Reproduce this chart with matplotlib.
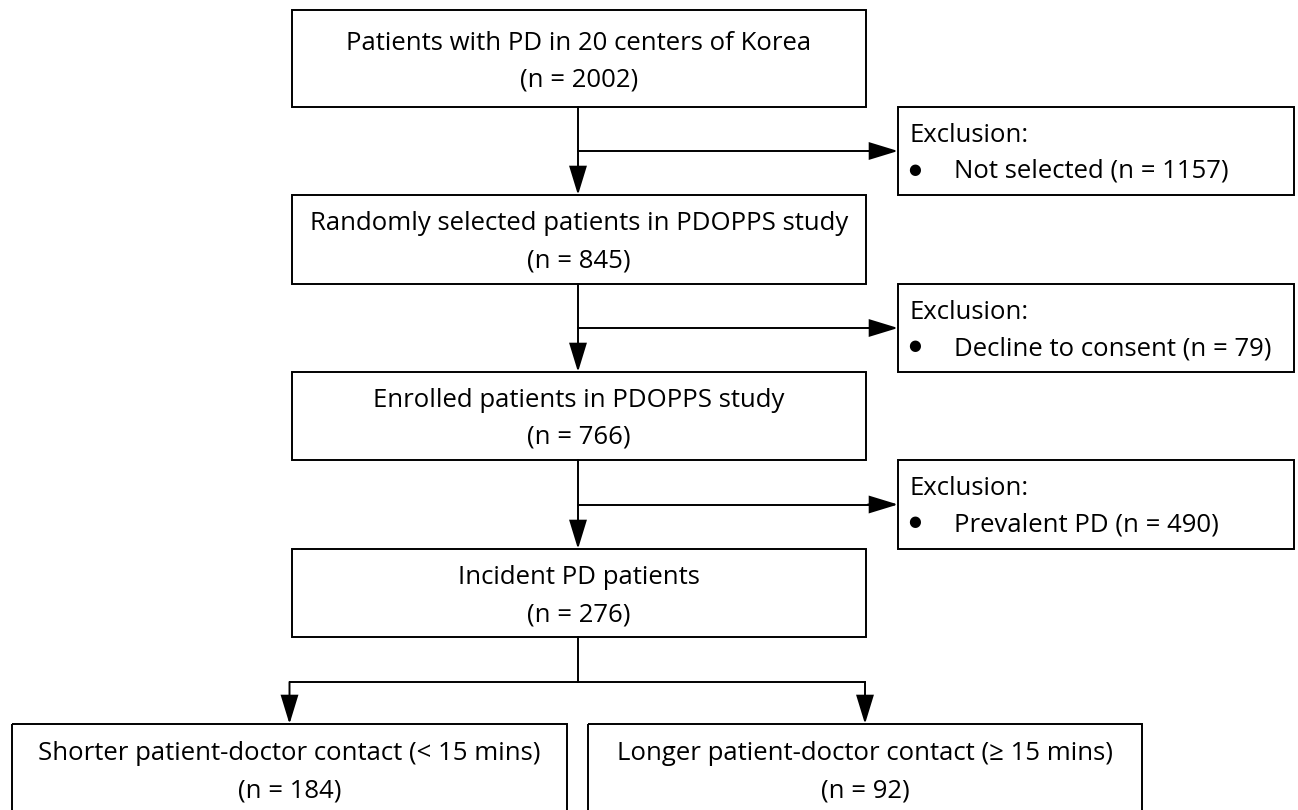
"""
Flowchart of PD patient selection for the PDOPPS contact-time analysis.
"""

import matplotlib

matplotlib.use("Agg")
import matplotlib.pyplot as plt
from matplotlib.patches import FancyArrowPatch, Rectangle

plt.rcParams["font.family"] = ["Open Sans", "DejaVu Sans"]

# box texts (top to bottom)
MAIN_TITLES = [
    "Patients with PD in 20 centers of Korea",
    "Randomly selected patients in PDOPPS study",
    "Enrolled patients in PDOPPS study",
    "Incident PD patients",
]
MAIN_COUNTS = [2002, 845, 766, 276]

EXCL_REASONS = ["Not selected", "Decline to consent", "Prevalent PD"]
EXCL_COUNTS = [1157, 79, 490]

GROUP_TITLES = [
    "Shorter patient-doctor contact (< 15 mins)",
    "Longer patient-doctor contact (\u2265 15 mins)",
]
GROUP_COUNTS = [184, 92]

# layout in pixels (x0, x1, y0, y1), y grows downwards
MAIN_X = (292, 866)
MAIN_Y = [(10, 107), (195, 284), (372, 460), (549, 637)]
EXCL_X = (898, 1294)
EXCL_Y = [(107, 195), (284, 372), (460, 549)]
GROUP_X = [(12, 567), (588, 1142)]
GROUP_Y = (724, 830)
SPLIT_Y = 682
STEM_X = 578

W, H = 1298, 810
LW = 1.4
FS = 18.5


def box(ax, x0, x1, y0, y1):
    ax.add_patch(Rectangle((x0, y0), x1 - x0, y1 - y0, fill=False,
                           edgecolor="black", linewidth=LW))


def arrow(ax, p0, p1):
    ax.add_patch(FancyArrowPatch(
        p0, p1, arrowstyle="-|>,head_length=18,head_width=5.5",
        mutation_scale=1, shrinkA=0, shrinkB=0,
        color="black", linewidth=LW, joinstyle="miter"))


def label(ax, x, y, s, ha="center"):
    ax.text(x, y, s, ha=ha, va="baseline", fontsize=FS)


fig = plt.figure(figsize=(W / 100, H / 100), dpi=100)
ax = fig.add_axes([0, 0, 1, 1])
ax.set_xlim(0, W)
ax.set_ylim(H, 0)
ax.axis("off")

xc = (MAIN_X[0] + MAIN_X[1]) / 2
for (y0, y1), title, n in zip(MAIN_Y, MAIN_TITLES, MAIN_COUNTS):
    box(ax, MAIN_X[0], MAIN_X[1], y0, y1)
    yc = (y0 + y1) / 2
    label(ax, xc, yc - 9, title)
    label(ax, xc, yc + 28, f"(n = {n})")

for i, ((y0, y1), reason, n) in enumerate(zip(EXCL_Y, EXCL_REASONS, EXCL_COUNTS)):
    box(ax, EXCL_X[0], EXCL_X[1], y0, y1)
    label(ax, EXCL_X[0] + 11, y0 + 35, "Exclusion:", ha="left")
    ax.text(EXCL_X[0] + 17, y0 + 62, "\u25CF", ha="center", va="center",
            fontsize=10.5, family="DejaVu Sans")
    label(ax, EXCL_X[0] + 56, y0 + 71, f"{reason} (n = {n})", ha="left")
    ym = (y0 + y1) / 2
    # down arrow to next main box and side arrow to exclusion box
    arrow(ax, (STEM_X, MAIN_Y[i][1]), (STEM_X, MAIN_Y[i + 1][0]))
    ax.plot([STEM_X, EXCL_X[0] - 20], [ym, ym], color="black", lw=LW)
    arrow(ax, (EXCL_X[0] - 30, ym), (EXCL_X[0], ym))

# split into the two contact-time groups
group_centres = [(a + b) / 2 for a, b in GROUP_X]
ax.plot([STEM_X, STEM_X], [MAIN_Y[-1][1], SPLIT_Y], color="black", lw=LW)
ax.plot([group_centres[0], group_centres[1]], [SPLIT_Y, SPLIT_Y],
        color="black", lw=LW, solid_capstyle="projecting")
for gx, (x0, x1), title, n in zip(group_centres, GROUP_X, GROUP_TITLES, GROUP_COUNTS):
    arrow(ax, (gx, SPLIT_Y), (gx, GROUP_Y[0]))
    box(ax, x0, x1, GROUP_Y[0], GROUP_Y[1])
    label(ax, gx, 760, title)
    label(ax, gx, 798, f"(n = {n})")

fig.savefig("out.png", dpi=100, facecolor="white")
